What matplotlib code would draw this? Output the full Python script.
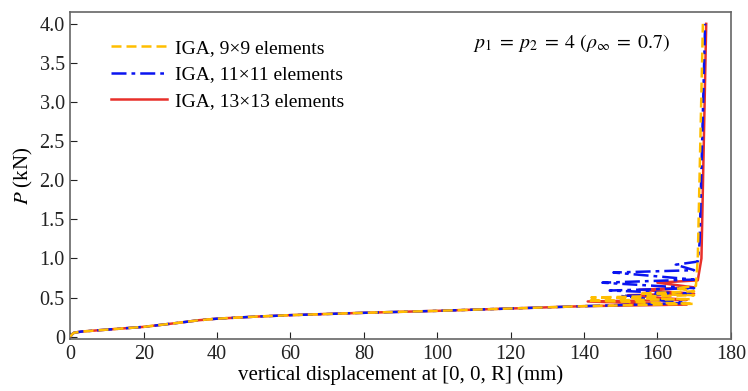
import matplotlib
matplotlib.use("Agg")
import matplotlib.pyplot as plt

plt.rcParams['font.family'] = ['Liberation Serif', 'DejaVu Serif']
plt.rcParams['mathtext.fontset'] = 'stix'

# shared pre-buckling path (mm, kN)
base_u = [0, 0.5, 1, 3, 10, 20, 30, 35, 40, 50, 60, 80, 100, 120, 140]
base_p = [0, 0.03, 0.05, 0.065, 0.09, 0.125, 0.18, 0.21, 0.23, 0.255, 0.275, 0.305, 0.33, 0.36, 0.39]

# snap-through and stiffening branches
u_9 = [170, 141, 169, 142, 170, 155, 170, 165, 170.5, 171, 172.4]
p_9 = [0.42, 0.46, 0.48, 0.50, 0.53, 0.55, 0.58, 0.62, 0.65, 1.0, 4.0]

u_11 = [168, 150, 169, 147, 170, 145, 170, 148, 170, 165, 171, 171.5, 173.0]
p_11 = [0.43, 0.52, 0.55, 0.59, 0.62, 0.69, 0.73, 0.82, 0.85, 0.92, 0.96, 1.2, 4.0]

u_13 = [168, 141, 168, 152, 170, 155, 170, 160, 171, 172, 173.3]
p_13 = [0.41, 0.45, 0.47, 0.53, 0.55, 0.60, 0.63, 0.69, 0.72, 1.0, 4.0]

fig = plt.figure(figsize=(7.48, 3.91), dpi=100)
ax = fig.add_axes([0.094, 0.133, 0.883, 0.836])

ax.plot(base_u + u_13, base_p + p_13, color='#E8302A', lw=1.8, label='IGA, 13×13 elements', zorder=2)
ax.plot(base_u + u_11, base_p + p_11, color='#0A14F0', lw=1.8, ls=(0, (6, 2, 1.5, 2)),
        label='IGA, 11×11 elements', zorder=3)
ax.plot(base_u + u_9, base_p + p_9, color='#FFBE00', lw=1.8, ls=(0, (4, 2)),
        label='IGA, 9×9 elements', zorder=4)

handles, labels = ax.get_legend_handles_labels()
ax.legend(handles[::-1], labels[::-1], loc='upper left', frameon=False, fontsize=14,
          bbox_to_anchor=(0.035, 0.97), handlelength=2.9, handletextpad=0.4,
          labelspacing=0.45)

ax.text(0.61, 0.905, r'$p_1\;=\;p_2\;=\;4\ (\rho_\infty\;=\;0.7)$', transform=ax.transAxes,
        fontsize=14.3, va='center')

ax.set_xlim(0, 180)
ax.set_ylim(-0.03, 4.15)
ax.set_xticks(range(0, 181, 20))
yt = [0, 0.5, 1.0, 1.5, 2.0, 2.5, 3.0, 3.5, 4.0]
ax.set_yticks(yt)
ax.set_yticklabels(['0'] + ['%.1f' % v for v in yt[1:]])
ax.tick_params(direction='in', length=5, labelsize=14.5, colors='#222222', pad=4)
for s in ax.spines.values():
    s.set_color('#666666')
    s.set_linewidth(1.2)

ax.set_xlabel('vertical displacement at [0, 0, R] (mm)', fontsize=15, labelpad=1)
ax.set_ylabel(r'$P$ (kN)', fontsize=15, labelpad=3)

fig.savefig('out.png', dpi=100)
